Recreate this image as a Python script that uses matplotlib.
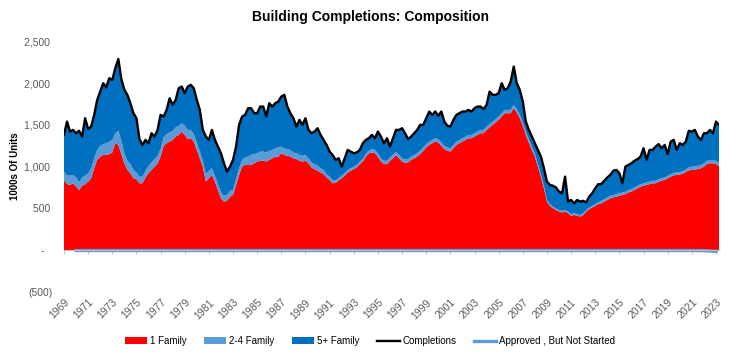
import matplotlib.pyplot as plt
import numpy as np

plt.rcParams['font.family'] = ['Liberation Sans', 'DejaVu Sans']

# quarterly points, 1969 Q1 .. 2023 Q2 (1000s of units, annual rate)
dates = np.arange(1969, 2023.26, 0.25)

completions = [
    1380, 1540, 1420, 1440, 1400, 1430, 1360, 1580,   # 1969-70
    1450, 1480, 1620, 1800, 1900, 2000, 1950, 2060,   # 1971-72
    2040, 2180, 2290, 2050, 1920, 1860, 1760, 1640,   # 1973-74
    1580, 1330, 1260, 1320, 1280, 1400, 1360, 1440,   # 1975-76
    1620, 1600, 1680, 1820, 1740, 1800, 1940, 1960,   # 1977-78
    1880, 1960, 1980, 1940, 1800, 1680, 1440, 1360,   # 1979-80
    1320, 1440, 1320, 1240, 1160, 1040, 940, 1000,    # 1981-82
    1080, 1240, 1500, 1600, 1620, 1700, 1700, 1640,   # 1983-84
    1640, 1720, 1720, 1600, 1760, 1720, 1760, 1780,   # 1985-86
    1840, 1860, 1720, 1640, 1580, 1480, 1560, 1500,   # 1987-88
    1580, 1440, 1400, 1420, 1460, 1380, 1320, 1260,   # 1989-90
    1180, 1140, 1080, 1100, 1000, 1100, 1200, 1180,   # 1991-92
    1160, 1170, 1200, 1280, 1320, 1340, 1380, 1340,   # 1993-94
    1420, 1360, 1280, 1340, 1240, 1340, 1440, 1440,   # 1995-96
    1460, 1400, 1330, 1360, 1400, 1440, 1500, 1500,   # 1997-98
    1580, 1660, 1620, 1660, 1610, 1660, 1540, 1490,   # 1999-00
    1480, 1560, 1620, 1640, 1660, 1660, 1680, 1660,   # 2001-02
    1700, 1720, 1720, 1690, 1740, 1900, 1860, 1860,   # 2003-04
    1880, 2000, 1920, 1940, 2020, 2200, 2000, 1920,   # 2005-06
    1780, 1540, 1440, 1360, 1280, 1200, 1120, 980,    # 2007-08
    820, 780, 770, 750, 700, 680, 880, 580,           # 2009-10
    600, 560, 600, 580, 590, 570, 640, 680,           # 2011-12
    740, 790, 790, 830, 870, 900, 950, 960,           # 2013-14
    920, 800, 1000, 1020, 1040, 1070, 1090, 1120,     # 2015-16
    1220, 1080, 1200, 1200, 1240, 1270, 1220, 1260,   # 2017-18
    1150, 1300, 1320, 1200, 1280, 1260, 1300, 1430,   # 2019-20
    1420, 1440, 1360, 1320, 1400, 1400, 1440, 1400,   # 2021-22
    1540, 1500,                                       # 2023
]

one_family = [
    840, 790, 780, 800, 760, 720, 770, 790,
    820, 860, 980, 1080, 1120, 1140, 1140, 1150,
    1170, 1280, 1260, 1150, 1040, 960, 920, 860,
    850, 800, 800, 870, 920, 960, 1000, 1040,
    1120, 1250, 1280, 1300, 1320, 1360, 1380, 1420,
    1380, 1330, 1340, 1300, 1200, 1100, 1000, 820,
    860, 900, 820, 720, 620, 580, 590, 640,
    660, 780, 900, 1000, 1020, 1020, 1020, 1040,
    1060, 1070, 1070, 1060, 1080, 1100, 1120, 1120,
    1160, 1140, 1130, 1120, 1100, 1090, 1070, 1060,
    1070, 1040, 990, 970, 950, 930, 910, 870,
    840, 800, 805, 835, 860, 890, 930, 950,
    970, 990, 1030, 1060, 1120, 1160, 1170, 1160,
    1120, 1060, 1030, 1030, 1070, 1100, 1140, 1100,
    1060, 1045, 1050, 1080, 1100, 1120, 1150, 1190,
    1230, 1260, 1280, 1300, 1290, 1250, 1210, 1190,
    1180, 1220, 1260, 1280, 1300, 1320, 1340, 1340,
    1360, 1380, 1400, 1400, 1440, 1470, 1500, 1530,
    1560, 1600, 1640, 1640, 1640, 1700, 1650, 1580,
    1490, 1380, 1290, 1200, 1120, 1000, 880, 740,
    580, 530, 500, 480, 460, 450, 460, 440,
    410, 420, 410, 400, 420, 460, 490, 510,
    530, 550, 560, 580, 600, 620, 630, 640,
    650, 660, 670, 690, 700, 720, 740, 760,
    770, 780, 790, 800, 800, 820, 830, 840,
    860, 880, 895, 900, 905, 915, 935, 955,
    960, 965, 970, 980, 1000, 1030, 1040, 1040,
    1030, 1010,
]

two_four = [
    100, 100, 120, 100, 110, 90, 100, 100,
    100, 120, 120, 120, 130, 130, 140, 150,
    150, 120, 170, 160, 120, 110, 110, 100,
    80, 80, 80, 80, 90, 90, 90, 90,
    90, 100, 110, 110, 110, 110, 110, 100,
    110, 110, 100, 90, 90, 80, 70, 90,
    90, 80, 70, 70, 70, 70, 70, 70,
    60, 70, 80, 80, 90, 100, 120, 110,
    100, 110, 110, 110, 110, 100, 100, 110,
    80, 80, 80, 80, 70, 70, 70, 70,
    70, 60, 60, 60, 60, 50, 50, 40,
    40, 40, 30, 30, 30, 30, 30, 30,
    30, 30, 30, 30, 30, 30, 40, 40,
    40, 40, 40, 40, 40, 40, 40, 40,
    40, 40, 40, 40, 40, 40, 40, 40,
    40, 40, 40, 40, 40, 40, 40, 40,
    40, 40, 40, 40, 40, 40, 40, 40,
    40, 40, 40, 40, 40, 40, 40, 40,
    40, 40, 40, 40, 40, 40, 40, 40,
    40, 40, 40, 40, 30, 30, 30, 30,
    20, 20, 20, 20, 20, 20, 20, 20,
    20, 20, 20, 20, 20, 20, 20, 20,
    20, 20, 30, 30, 30, 30, 30, 30,
    30, 30, 30, 30, 30, 30, 30, 30,
    30, 30, 30, 30, 30, 30, 30, 30,
    30, 30, 30, 30, 30, 30, 30, 40,
    40, 40, 40, 40, 40, 40, 40, 40,
    40, 40,
]

# approved but not started sits right on the zero line (annual points)
approved_years = np.arange(1970, 2024)
approved = [-6] * 52 + [-8, -16]

one_family = np.array(one_family)
two_four = np.array(two_four)
completions = np.array(completions)
five_plus = completions - one_family - two_four

fig = plt.figure(figsize=(7.4, 3.6), dpi=100)
ax = fig.add_axes([64 / 740, 1 - 291.7 / 360, 655 / 740, 250.2 / 360])

ax.stackplot(dates, one_family, two_four, five_plus,
             colors=['#FF0000', '#5B9BD5', '#0070C0'],
             labels=['1 Family', '2-4 Family', '5+ Family'], linewidth=0)
ax.plot(dates, completions, color='black', lw=1.7, label='Completions')
ax.plot(approved_years, approved, color='#5B9BD5', lw=2.4,
        label='Approved , But Not Started')

ax.set_xlim(1969, 2023.25)
ax.set_ylim(-500, 2500)

yt = list(range(-500, 2501, 500))
ylabels = []
for v in yt:
    if v < 0:
        ylabels.append('({:,})'.format(-v))
    elif v == 0:
        ylabels.append('-   ')
    else:
        ylabels.append('{:,} '.format(v))
ax.set_yticks(yt)
ax.set_yticklabels(ylabels)
ax.tick_params(axis='y', length=0, pad=8, labelsize=7.5, labelcolor='#595959')

for s in ['left', 'right', 'top']:
    ax.spines[s].set_visible(False)
ax.spines['bottom'].set_position(('data', 0))
ax.spines['bottom'].set_color('#BFBFBF')

years = list(range(1969, 2024, 2))
ax.set_xticks(years)
ax.tick_params(axis='x', length=3, color='#BFBFBF', labelbottom=False)

sec = ax.secondary_xaxis(0.0)
sec.set_xticks(years)
sec.set_xticklabels([str(y) for y in years])
sec.tick_params(length=0, pad=4, labelsize=7.5, labelcolor='#595959')
sec.spines['bottom'].set_visible(False)
for lab in sec.get_xticklabels():
    lab.set_rotation(45)
    lab.set_ha('right')
    lab.set_va('top')
    lab.set_rotation_mode('anchor')

fig.text(0.5, 1 - 17 / 360, 'Building Completions: Composition',
         ha='center', va='center', fontsize=10, fontweight='bold')
fig.text(15 / 740, 1 - 166 / 360, '1000s Of Units', rotation=90,
         ha='center', va='center', fontsize=7, fontweight='bold')

fig.legend(loc='center', bbox_to_anchor=(0.5, 1 - 341 / 360), ncol=5,
           frameon=False, fontsize=7, handlelength=2.3, handleheight=0.7,
           handletextpad=0.3, columnspacing=1.8)

fig.savefig('out.png', dpi=100)
